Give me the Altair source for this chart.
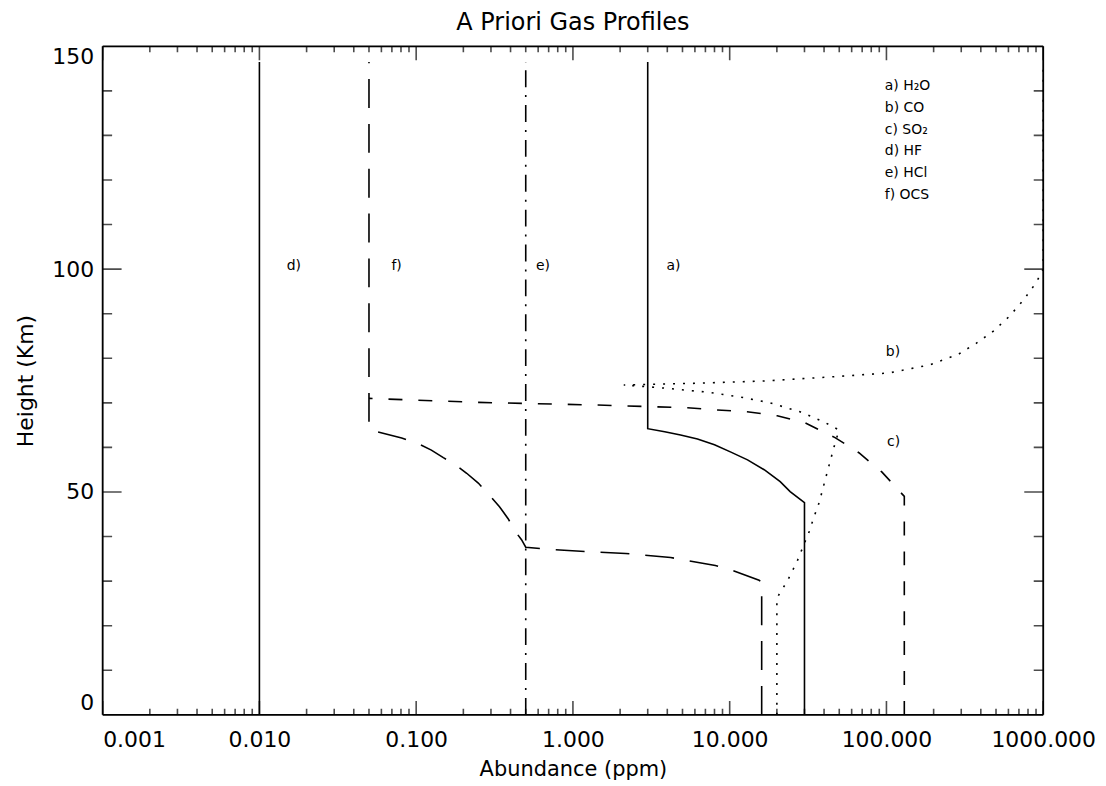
import altair as alt
import pandas as pd

FONT = "DejaVu Sans"
TOP = 146.5

# ---- profiles (abundance in ppm, height in km) ----
h2o_x = [30, 30, 24.3, 21.0, 16.6, 13.0, 10.1, 8.0, 6.23, 4.86, 3.85, 3.0, 3.0]
h2o_h = [0, 47.6, 50.1, 52.3, 55.0, 57.2, 59.0, 60.6, 61.9, 62.8, 63.5, 64.2, TOP]

co_x = [20, 20, 23.3, 26.9, 30.3, 32.6, 34.0, 37.2, 41.8, 46.3, 49.8, 40.0, 28.1, 18.1, 11.7,
        7.21, 3.85, 2.11, 6.23, 16.6, 43.6, 103.5, 188, 288, 375, 481, 608, 746, 903, 1000, 1000]
co_h = [0, 26.2, 30.0, 34.4, 38.9, 41.6, 43.8, 47.6, 54.3, 60.1, 63.9, 65.7, 68.0, 70.0, 71.3,
        72.4, 73.3, 74.0, 74.4, 74.9, 75.8, 76.7, 78.5, 80.9, 83.4, 86.1, 89.4, 93.0, 97.0, 100, TOP]

so2_x = [130, 130, 93.4, 66.7, 47.0, 30.3, 20.1, 12.9, 8.35, 5.38, 3.47, 1.44, 0.25, 0.05]
so2_h = [0, 49.0, 54.5, 58.8, 62.2, 65.5, 67.1, 68.0, 68.4, 68.9, 69.1, 69.5, 70.1, 71.0]

hf_x = [0.01, 0.01]
hf_h = [0, TOP]

hcl_x = [0.5, 0.5]
hcl_h = [0, TOP]

ocs_x = [16, 16, 15.4, 10.1, 8.1, 4.2, 2.17, 1.12, 0.724, 0.5, 0.47, 0.434, 0.386, 0.34, 0.296,
         0.249, 0.21, 0.18, 0.149, 0.125, 0.1035, 0.0808, 0.0536, 0.05, 0.05]
ocs_h = [0, 29.8, 30.2, 32.6, 33.5, 35.3, 36.2, 36.7, 37.1, 37.6, 39.3, 40.9, 44.0, 46.7, 49.1,
         52.0, 54.2, 56.0, 57.7, 59.4, 60.8, 62.1, 63.7, 64.5, TOP]

# ---- curve labels ----
lab_text = ["d)", "f)", "e)", "a)", "b)", "c)"]
lab_x = [0.0166, 0.075, 0.644, 4.38, 110, 111]
lab_h = [100.8, 100.8, 100.8, 100.8, 81.4, 61.3]

# ---- legend text ----
leg_text = ["a) H\u2082O", "b) CO", "c) SO\u2082", "d) HF", "e) HCl", "f) OCS"]
leg_x = [97.6] * 6
leg_h = [141.0, 136.1, 131.2, 126.4, 121.5, 116.6]

# ---- axes ----
x_major = [0.001, 0.01, 0.1, 1, 10, 100, 1000]
x_minor = [m * 10.0 ** e for e in range(-3, 3) for m in range(2, 10)]
y_major = [0, 50, 100, 150]
y_minor = [10, 20, 30, 40, 60, 70, 80, 90, 110, 120, 130, 140]
x_edges = [0.001, 1000]
y_edges = [0, 150]

xscale = alt.Scale(type="log", domain=[0.001, 1000], nice=False)
yscale = alt.Scale(domain=[0, 150], nice=False, zero=False)

xaxis = alt.Axis(
    values=x_major, format=".3f", title="Abundance (ppm)", grid=False, ticks=False, domain=False,
    labelFont=FONT, labelFontSize=22, labelColor="black", labelPadding=15,
    labelAlign={"condition": {"test": "datum.value < 0.002", "value": "left"}, "value": "center"},
    titleFont=FONT, titleFontSize=21, titleFontWeight="normal", titleColor="black", titlePadding=8,
)
yaxis = alt.Axis(
    values=y_major, title="Height (Km)", grid=False, ticks=False, domain=False,
    labelFont=FONT, labelFontSize=22, labelColor="black", labelPadding=9, labelFlush=True,
    titleFont=FONT, titleFontSize=22, titleFontWeight="normal", titleColor="black", titlePadding=14,
)


def enc(chart):
    return chart.encode(
        x=alt.X("x:Q", scale=xscale, axis=xaxis),
        y=alt.Y("h:Q", scale=yscale, axis=yaxis),
    )


def profile(xs, hs, dash=None):
    df = pd.DataFrame({"x": xs, "h": hs, "o": list(range(len(xs)))})
    kw = dict(color="black", strokeWidth=1.6)
    if dash is not None:
        kw["strokeDash"] = dash
    return alt.Chart(df).mark_line(**kw).encode(
        x=alt.X("x:Q", scale=xscale, axis=xaxis),
        y=alt.Y("h:Q", scale=yscale, axis=yaxis),
        order="o:Q",
    )


# plot frame
frame_v = alt.Chart(pd.DataFrame({"x": x_edges})).mark_rule(color="black", strokeWidth=1.8).encode(
    x=alt.X("x:Q", scale=xscale, axis=xaxis))
frame_h = alt.Chart(pd.DataFrame({"h": y_edges})).mark_rule(color="black", strokeWidth=1.8).encode(
    y=alt.Y("h:Q", scale=yscale, axis=yaxis))

layers = [
    frame_v,
    frame_h,
    profile(hf_x, hf_h),
    profile(h2o_x, h2o_h),
    profile(hcl_x, hcl_h, [17, 8, 2, 8]),
    profile(ocs_x, ocs_h, [29, 16]),
    profile(so2_x, so2_h, [14, 16]),
    profile(co_x, co_h, [2, 8]),
]

# tick marks (inward, on all four sides)
def xticks(vals, size):
    df = pd.DataFrame([{"x": v, "h": hh} for v in vals for hh in (0, 150)])
    return enc(alt.Chart(df).mark_tick(color="black", thickness=1.6, size=size,
                                        orient="vertical", clip=True))


def yticks(vals, size):
    df = pd.DataFrame([{"x": xx, "h": v} for v in vals for xx in (0.001, 1000)])
    return enc(alt.Chart(df).mark_tick(color="black", thickness=1.6, size=size,
                                        orient="horizontal", clip=True))


layers += [xticks(x_major, 28), xticks(x_minor, 12), yticks(y_major, 38), yticks(y_minor, 19)]

labels = enc(alt.Chart(pd.DataFrame({"x": lab_x, "h": lab_h, "t": lab_text})).mark_text(
    font=FONT, fontSize=14, color="black", align="center", baseline="middle"
)).encode(text="t:N")

legend = enc(alt.Chart(pd.DataFrame({"x": leg_x, "h": leg_h, "t": leg_text})).mark_text(
    font=FONT, fontSize=14, color="black", align="left", baseline="middle"
)).encode(text="t:N")

layers += [labels, legend]

chart = alt.layer(*layers).properties(
    width=944,
    height=671,
    title=alt.TitleParams("A Priori Gas Profiles", font=FONT, fontSize=24, fontWeight="normal",
                          color="black", anchor="middle", offset=10),
    autosize=alt.AutoSizeParams(type="none"),
    padding={"left": 95, "top": 37, "right": 55, "bottom": 65},
).configure_view(stroke=None).configure(background="white")

chart.save("out.html", embed_options={"renderer": "svg", "actions": False})
